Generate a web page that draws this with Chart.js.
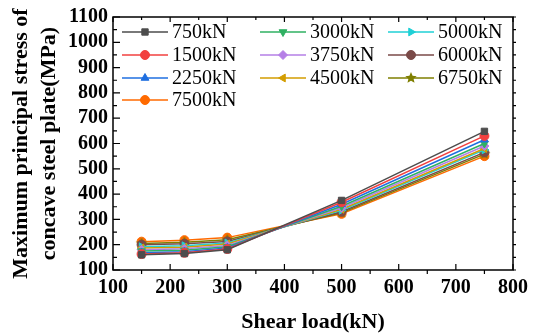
<!DOCTYPE html>
<html>
<head>
    <title>Concave steel plate stress</title>
    <script src="https://cdn.jsdelivr.net/npm/chart.js"></script>
    <style>
        body { margin: 0; background: #fff; }
    </style>
</head>
<body>
    <canvas id="myChart" width="536" height="336"></canvas>
    <script>
        // shear load on the x axis (kN)
        const shearLoad = [150, 225, 300, 500, 750];

        // max principal stress (MPa) for every vertical load case
        const stress750 = [160, 165, 180, 375, 648];
        const stress1500 = [163, 168, 183, 368, 630];
        const stress2250 = [168, 172, 187, 360, 615];
        const stress3000 = [175, 178, 192, 352, 600];
        const stress3750 = [180, 184, 197, 346, 590];
        const stress4500 = [187, 190, 203, 340, 580];
        const stress5000 = [192, 196, 207, 336, 575];
        const stress6000 = [200, 204, 213, 330, 565];
        const stress6750 = [205, 210, 220, 326, 558];
        const stress7500 = [212, 218, 228, 322, 550];

        const xTicks = [100, 200, 300, 400, 500, 600, 700, 800];
        const yTicks = [100, 200, 300, 400, 500, 600, 700, 800, 900, 1000, 1100];

        // little filled star for the 6750kN series
        function makeStar(color, r) {
            const c = document.createElement('canvas');
            c.width = r * 2 + 2;
            c.height = r * 2 + 2;
            const g = c.getContext('2d');
            g.fillStyle = color;
            g.beginPath();
            for (let i = 0; i < 10; i++) {
                const rad = i % 2 === 0 ? r : r * 0.45;
                const a = -Math.PI / 2 + i * Math.PI / 5;
                g.lineTo(r + 1 + rad * Math.cos(a), r + 1 + rad * Math.sin(a));
            }
            g.closePath();
            g.fill();
            return c;
        }

        function series(label, data, color, style, rotation) {
            return {
                label: label,
                data: data.map((v, i) => ({ x: shearLoad[i], y: v })),
                borderColor: color,
                backgroundColor: color,
                borderWidth: 1.5,
                pointStyle: style,
                pointRotation: rotation || 0,
                pointRadius: 4.5,
                pointBorderWidth: 1,
                tension: 0
            };
        }

        const datasets = [
            series('750kN', stress750, '#4d4d4d', 'rect'),
            series('1500kN', stress1500, '#f2403f', 'circle'),
            series('2250kN', stress2250, '#1f6fe0', 'triangle'),
            series('3000kN', stress3000, '#2fb062', 'triangle', 180),
            series('3750kN', stress3750, '#b57fe6', 'rectRot'),
            series('4500kN', stress4500, '#d39d00', 'triangle', 270),
            series('5000kN', stress5000, '#1fd0d6', 'triangle', 90),
            series('6000kN', stress6000, '#7a4a48', 'circle'),
            series('6750kN', stress6750, '#7f7f00', makeStar('#7f7f00', 6)),
            series('7500kN', stress7500, '#ff6a00', 'circle')
        ];

        // legend is 3 columns, row by row
        const legendOrder = ['750kN', '3000kN', '5000kN', '1500kN', '3750kN', '6000kN', '2250kN', '4500kN', '6750kN', '7500kN'];

        const framePlugin = {
            id: 'frame',
            afterDraw(chart) {
                const c = chart.ctx;
                const a = chart.chartArea;
                const xs = chart.scales.x;
                const ys = chart.scales.y;
                c.save();
                c.strokeStyle = '#000';
                c.lineWidth = 1.5;
                c.strokeRect(a.left, a.top, a.right - a.left, a.bottom - a.top);
                c.lineWidth = 1.2;
                c.beginPath();
                for (let v = 100; v <= 800; v += 50) {
                    const px = xs.getPixelForValue(v);
                    const major = v % 100 === 0;
                    if (major) {
                        c.moveTo(px, a.bottom); c.lineTo(px, a.bottom - 6);
                    } else {
                        c.moveTo(px, a.bottom); c.lineTo(px, a.bottom + 4);
                    }
                    c.moveTo(px, a.top); c.lineTo(px, a.top + (major ? 5 : 3));
                }
                for (let v = 100; v <= 1100; v += 50) {
                    const py = ys.getPixelForValue(v);
                    const major = v % 100 === 0;
                    c.moveTo(a.left, py); c.lineTo(a.left + (major ? 7 : 4), py);
                    c.moveTo(a.right, py); c.lineTo(a.right + 3, py);
                }
                c.stroke();

                // legend
                const colX = [122, 260, 388];
                const rowY = [32, 55, 78, 100];
                c.font = '20px "Liberation Serif"';
                c.textBaseline = 'middle';
                c.textAlign = 'left';
                legendOrder.forEach((name, i) => {
                    const ds = chart.data.datasets.find(d => d.label === name);
                    const x = colX[i % 3];
                    const y = rowY[Math.floor(i / 3)];
                    c.strokeStyle = ds.borderColor;
                    c.fillStyle = ds.backgroundColor;
                    c.lineWidth = 1.5;
                    c.beginPath();
                    c.moveTo(x, y);
                    c.lineTo(x + 46, y);
                    c.stroke();
                    c.lineWidth = 1;
                    Chart.helpers.drawPoint(c, {
                        pointStyle: ds.pointStyle,
                        rotation: ds.pointRotation,
                        radius: 4.5,
                        borderWidth: 1
                    }, x + 23, y);
                    c.fillStyle = '#000';
                    c.fillText(name, x + 50, y + 1);
                });
                c.restore();
            }
        };

        const tickFont = { family: 'Liberation Serif', size: 20, weight: 'bold' };
        const titleFont = { family: 'Liberation Serif', size: 22, weight: 'bold', lineHeight: 1.25 };

        const ctx = document.getElementById('myChart').getContext('2d');
        const myChart = new Chart(ctx, {
            type: 'line',
            data: { datasets: datasets },
            options: {
                responsive: false,
                animation: false,
                layout: { padding: { top: 17, right: 23, left: 0, bottom: 0 } },
                plugins: {
                    legend: { display: false },
                    tooltip: { enabled: false }
                },
                scales: {
                    x: {
                        type: 'linear',
                        min: 100,
                        max: 800,
                        afterBuildTicks: s => { s.ticks = xTicks.map(v => ({ value: v })); },
                        afterFit: s => { s.height = 66; },
                        grid: { display: false, drawTicks: false },
                        border: { display: false },
                        ticks: { color: '#000', font: tickFont, padding: 6, maxRotation: 0, autoSkip: false, callback: v => String(v) },
                        title: {
                            display: true,
                            text: 'Shear load(kN)',
                            color: '#000',
                            font: titleFont,
                            padding: { top: 0, bottom: 0 }
                        }
                    },
                    y: {
                        type: 'linear',
                        min: 100,
                        max: 1100,
                        afterBuildTicks: s => { s.ticks = yTicks.map(v => ({ value: v })); },
                        afterFit: s => { s.width = 113; },
                        grid: { display: false, drawTicks: false },
                        border: { display: false },
                        ticks: { color: '#000', font: tickFont, padding: 5, autoSkip: false, callback: v => String(v) },
                        title: {
                            display: true,
                            text: ['Maximum principal stress of', 'concave steel plate(MPa)'],
                            color: '#000',
                            font: titleFont,
                            padding: { top: 8, bottom: 0 }
                        }
                    }
                }
            },
            plugins: [framePlugin]
        });
    </script>
</body>
</html>
